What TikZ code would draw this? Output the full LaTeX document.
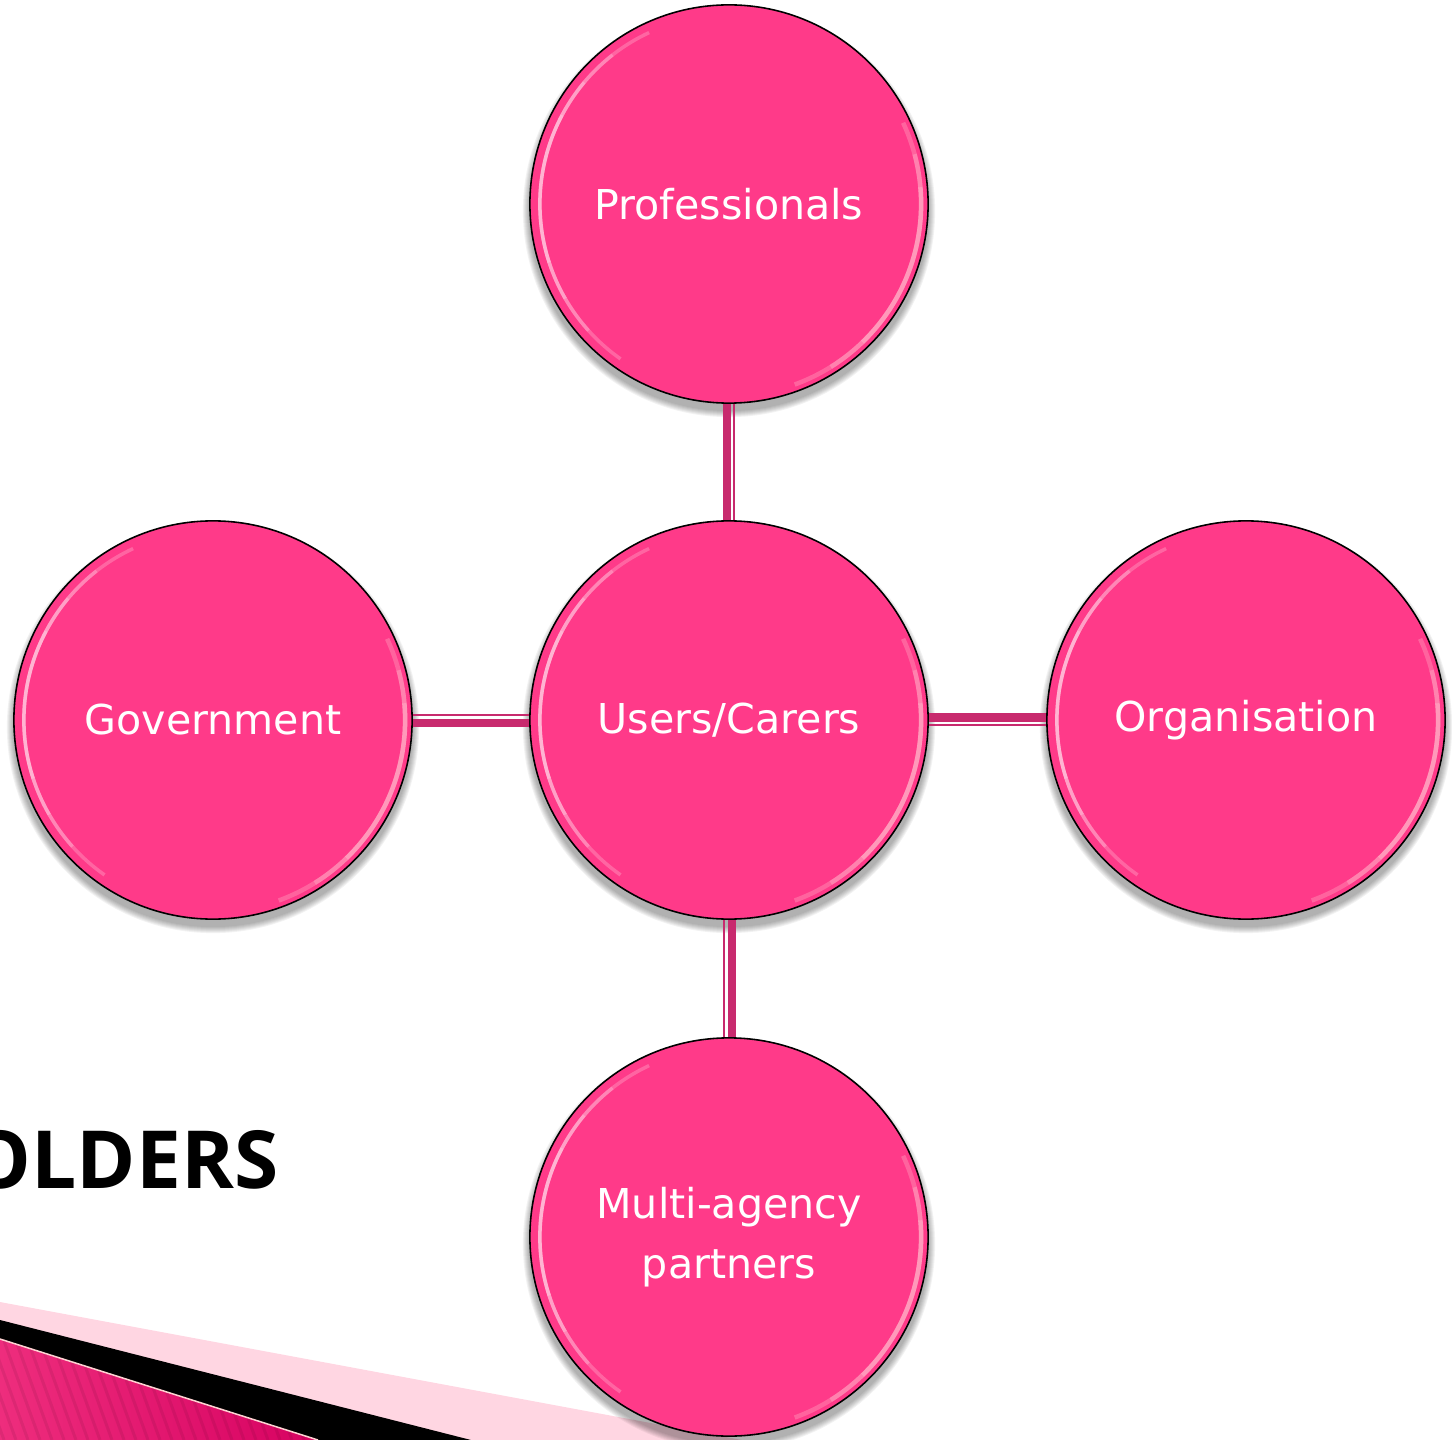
\documentclass[tikz,border=0pt]{standalone}
\usepackage{fontspec}
\setmainfont{DejaVu Sans}
\newfontfamily\titlefont{Open Sans}
\usetikzlibrary{calc}

\pgfdeclarelayer{bands}
\pgfdeclarelayer{background}
\pgfsetlayers{bands,background,main}

\definecolor{bubblepink}{RGB}{255,58,137}
\definecolor{linkpink}{RGB}{200,42,110}
\definecolor{palepink}{RGB}{255,214,226}
\definecolor{stripeleft}{RGB}{238,45,125}
\definecolor{striperight}{RGB}{214,0,96}

\def\rad{1.99cm}

\tikzset{
	bubble/.style={circle, draw=black, line width=0.45pt, fill=bubblepink,
		minimum size=3.98cm, inner sep=0pt, text=white, align=center,
		font=\fontsize{11.7}{17}\selectfont},
	thicklink/.style={linkpink, line width=0.08cm},
	thinlink/.style={linkpink, line width=0.02cm}
}

% thick strand on the left of a->b, thin strand on the right
\newcommand{\twinlink}[2]{%
	\draw[thicklink] ($(#1.center)!0.025cm!90:(#2.center)$) -- ($(#2.center)!0.025cm!-90:(#1.center)$);
	\draw[thinlink] ($(#1.center)!0.05cm!-90:(#2.center)$) -- ($(#2.center)!0.05cm!90:(#1.center)$);
}

\begin{document}
\begin{tikzpicture}[x=0.01cm, y=-0.01cm]

	\useasboundingbox (0,0) rectangle (1452,1440);

	\begin{pgfonlayer}{bands}
		\fill[palepink] (0,1302) -- (742,1440) -- (0,1440) -- cycle;
		\fill[black] (0,1320) -- (471,1440) -- (0,1440) -- cycle;
		\begin{scope}
			\clip (0,1339) -- (318,1440) -- (0,1440) -- cycle;
			\shade[left color=stripeleft, right color=striperight] (0,1330) rectangle (330,1440);
			\foreach \s in {-60,-48,...,320}
				\draw[black, opacity=0.07, line width=0.03cm] (\s,1330) -- ++(40,110);
		\end{scope}
		\draw[pink!70!white, line width=0.015cm] (0,1339) -- (318,1440);
	\end{pgfonlayer}

	\node[bubble] (users) at (729,720) {Users/Carers};
	\node[bubble] (prof) at (729,204) {Professionals};
	\node[bubble] (gov) at (213,720) {Government};
	\node[bubble] (org) at (1246,720) {Organisation};
	\node[bubble] (multi) at (729,1237) {Multi-agency\\partners};

	\begin{pgfonlayer}{background}
		\foreach \n in {users,prof,gov,org,multi}
			\foreach \k in {1,...,7}
				\fill[black, opacity=0.05] ([yshift=-0.07cm]\n.center) circle ({\rad+\k*0.01cm});
		\twinlink{users}{prof}
		\twinlink{users}{org}
		\twinlink{users}{multi}
		\twinlink{users}{gov}
	\end{pgfonlayer}

	% glossy rims, faded towards the ends
	\foreach \n in {users,prof,gov,org,multi} {
		\foreach \a/\b in {115/235,128/222,140/210,152/198}
			\draw[white, opacity=0.22, line width=0.035cm] ([shift={(\a:1.89cm)}]\n.center) arc (\a:\b:1.89cm);
		\foreach \a/\b in {-70/25,-58/15,-46/5}
			\draw[pink!50!white, opacity=0.25, line width=0.045cm] ([shift={(\a:1.92cm)}]\n.center) arc (\a:\b:1.92cm);
	}

	\begin{scope}
		\clip (0,0) rectangle (1452,1440);
		\node[anchor=base east, inner sep=0pt, font=\titlefont\bfseries\fontsize{22.8}{27}\selectfont] (title) at (279,1188) {OLDERS};
	\end{scope}

\end{tikzpicture}
\end{document}
